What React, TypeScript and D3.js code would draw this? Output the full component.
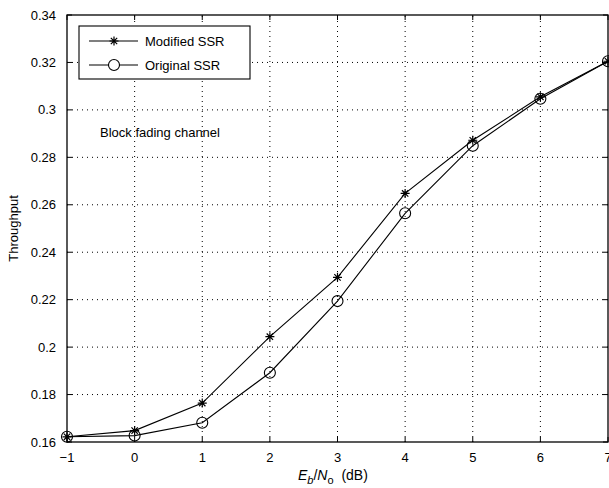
import React from "react";
import * as d3 from "d3";

const snr = [-1, 0, 1, 2, 3, 4, 5, 6, 7];
const modifiedSSR = [0.1622, 0.1648, 0.1764, 0.2044, 0.2294, 0.2648, 0.2872, 0.3055, 0.3205];
const originalSSR = [0.1622, 0.1627, 0.1681, 0.1892, 0.2194, 0.2564, 0.2849, 0.3047, 0.3205];
const xTicks = [-1, 0, 1, 2, 3, 4, 5, 6, 7];
const yTicks = [0.16, 0.18, 0.2, 0.22, 0.24, 0.26, 0.28, 0.3, 0.32, 0.34];

const W = 609, H = 488;
const M = { left: 67, right: 1, top: 15, bottom: 46 };

export default function App() {
  const x = d3.scaleLinear().domain([-1, 7]).range([M.left, W - M.right]);
  const y = d3.scaleLinear().domain([0.16, 0.34]).range([H - M.bottom, M.top]);
  const line = d3.line<number>().x((_, i) => x(snr[i])).y((d) => y(d));
  const font = "'Liberation Sans', Arial, Helvetica, sans-serif";
  const fmt = (v: number) => String(+v.toFixed(2)).replace("-", "\u2212");
  const x0 = M.left, x1 = W - M.right, y0 = H - M.bottom, y1 = M.top;
  const star = (cx: number, cy: number, k: string) => {
    const r = 4.5;
    const d = [0, 45, 90, 135].map((a) => {
      const rad = (a * Math.PI) / 180;
      return `M${cx - r * Math.cos(rad)},${cy - r * Math.sin(rad)}L${cx + r * Math.cos(rad)},${cy + r * Math.sin(rad)}`;
    }).join("");
    return <path key={k} d={d} stroke="#000" strokeWidth={1.2} fill="none" />;
  };
  return (
    <svg width={W} height={H} style={{ position: "absolute", left: 0, top: 0, background: "#fff" }} fontFamily={font}>
      <rect x={0} y={0} width={W} height={H} fill="#fff" />
      {xTicks.slice(1, -1).map((t) => (
        <line key={"gx" + t} x1={x(t)} x2={x(t)} y1={y0} y2={y1} stroke="#000" strokeWidth={1} strokeDasharray="1,4" />
      ))}
      {yTicks.slice(1, -1).map((t) => (
        <line key={"gy" + t} x1={x0} x2={x1} y1={y(t)} y2={y(t)} stroke="#000" strokeWidth={1} strokeDasharray="1,4" />
      ))}
      {xTicks.map((t) => (
        <g key={"tx" + t}>
          <line x1={x(t)} x2={x(t)} y1={y0} y2={y0 - 5} stroke="#000" />
          <line x1={x(t)} x2={x(t)} y1={y1} y2={y1 + 5} stroke="#000" />
          <text x={x(t)} y={y0 + 20} textAnchor="middle" fontSize={13}>{fmt(t)}</text>
        </g>
      ))}
      {yTicks.map((t) => (
        <g key={"ty" + t}>
          <line x1={x0} x2={x0 + 5} y1={y(t)} y2={y(t)} stroke="#000" />
          <line x1={x1} x2={x1 - 5} y1={y(t)} y2={y(t)} stroke="#000" />
          <text x={x0 - 11} y={y(t) + 4.5} textAnchor="end" fontSize={13}>{fmt(t)}</text>
        </g>
      ))}
      <rect x={x0} y={y1} width={x1 - x0} height={y0 - y1} fill="none" stroke="#000" strokeWidth={1.3} />
      <path d={line(modifiedSSR) || ""} fill="none" stroke="#000" strokeWidth={1.1} />
      <path d={line(originalSSR) || ""} fill="none" stroke="#000" strokeWidth={1.1} />
      {modifiedSSR.map((v, i) => star(x(snr[i]), y(v), "s" + i))}
      {originalSSR.map((v, i) => (
        <circle key={"c" + i} cx={x(snr[i])} cy={y(v)} r={5.5} fill="none" stroke="#000" strokeWidth={1.1} />
      ))}
      <rect x={79} y={26} width={171} height={53} fill="#fff" stroke="#000" strokeWidth={1.1} />
      <line x1={89} x2={138} y1={41} y2={41} stroke="#000" strokeWidth={1.1} />
      {star(114, 41, "ls")}
      <text x={145} y={45.5} fontSize={13}>Modified SSR</text>
      <line x1={89} x2={138} y1={65} y2={65} stroke="#000" strokeWidth={1.1} />
      <circle cx={114} cy={65} r={5.5} fill="#fff" stroke="#000" strokeWidth={1.1} />
      <text x={145} y={69.5} fontSize={13}>Original SSR</text>
      <text x={100} y={137} fontSize={13}>Block fading channel</text>
      <text transform={`translate(18,${(y0 + y1) / 2}) rotate(-90)`} textAnchor="middle" fontSize={13}>Throughput</text>
      <text x={298} y={480} fontSize={14}>
        <tspan fontStyle="italic">E</tspan>
        <tspan fontStyle="italic" fontSize={11} dy={4}>b</tspan>
        <tspan dy={-4}>/</tspan>
        <tspan fontStyle="italic">N</tspan>
        <tspan fontSize={11} dy={4}>o</tspan>
        <tspan dy={-4}>{"\u00a0\u00a0(dB)"}</tspan>
      </text>
    </svg>
  );
}
